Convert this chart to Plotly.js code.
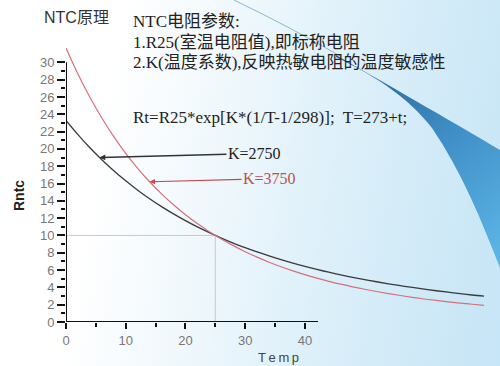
<!DOCTYPE html>
<html>
<head>
<meta charset="utf-8">
<script src="https://cdn.plot.ly/plotly-3.0.1.min.js"></script>
<style>
  html, body { margin:0; padding:0; }
  #wrap { position:relative; width:500px; height:366px; overflow:hidden;
    background: linear-gradient(100deg, #ffffff 0%, #ffffff 22%, #eef7fc 45%, #ddf0fa 65%, #cfe9f7 85%, #c6e5f6 100%); }
  #bg { position:absolute; left:0; top:0; }
  #chart { position:absolute; left:0; top:0; width:500px; height:366px; }
</style>
</head>
<body>
<div id="wrap">
<svg id="bg" width="500" height="366">
  <defs>
    <linearGradient id="sw" x1="340" y1="56" x2="500" y2="260" gradientUnits="userSpaceOnUse">
      <stop offset="0" stop-color="#255f8f"/>
      <stop offset="0.5" stop-color="#3f8fc6"/>
      <stop offset="1" stop-color="#5db5e6"/>
    </linearGradient>
  </defs>
  <path d="M234,0 Q292,28 340,56" stroke="#8fb6cc" stroke-width="1" fill="none"/>
  <path d="M336,55 C400,92 460,126 500,150 L500,268 C482,222 462,172 432,128 C410,100 380,78 336,57 Z" fill="url(#sw)"/>
</svg>
<div id="chart"></div>
</div>
<script>
// Temperature t (°C) and resistance readings for the two K values
const temps = [0,2,4,6,8,10,12,14,16,18,20,22,24,26,28,30,32,34,36,38,40,42,44,46,48,50,52,54,56,58,60,62,64,66,68,70];
const r2750 = [23.28,21.64,20.13,18.75,17.48,16.31,15.23,14.24,13.33,12.49,11.71,10.98,10.32,9.70,9.12,8.59,8.09,7.63,7.20,6.80,6.43,6.08,5.75,5.45,5.16,4.90,4.65,4.41,4.19,3.99,3.79,3.61,3.44,3.28,3.12,2.98];
const r3750 = [31.66,28.65,25.96,23.56,21.41,19.48,17.75,16.20,14.80,13.54,12.40,11.37,10.43,9.59,8.82,8.12,7.49,6.91,6.39,5.91,5.47,5.07,4.70,4.37,4.06,3.78,3.52,3.28,3.06,2.85,2.66,2.49,2.33,2.18,2.05,1.92];
const seriesNames = ['K=2750', 'K=3750'];
// Reference point R25 at 25 °C
const refT = 25;
const refR = 10;
// Tick labels
const xTickVals = [0,10,20,30,40];
const xMinorVals = [5,15,25,35];
const yTickVals = [0,2,4,6,8,10,12,14,16,18,20,22,24,26,28,30];
const yMinorVals = [1,3,5,7,9,11,13,15,17,19,21,23,25,27,29];
const xAxisEnd = 42.2;
const yAxisEnd = 30;
// Arrow anchor points (on the curves)
const arrow2750 = {t: 5.6, r: 19.0};
const arrow3750 = {t: 14, r: 16.2};

const traces = [
  {x:[0, refT, refT], y:[refR, refR, 0], mode:'lines', line:{color:'#c9c9c9', width:1}, hoverinfo:'skip'},
  {x:temps, y:r2750, name:seriesNames[0], mode:'lines', line:{color:'#3a3a3a', width:1.3, shape:'spline'}},
  {x:temps, y:r3750, name:seriesNames[1], mode:'lines', line:{color:'#d5707a', width:1.2, shape:'spline'}},
  {x:[0, xAxisEnd], y:[0, 0], mode:'lines', line:{color:'#111', width:2}, hoverinfo:'skip', cliponaxis:false},
  {x:[0, 0], y:[0, yAxisEnd], mode:'lines', line:{color:'#111', width:2}, hoverinfo:'skip', cliponaxis:false}
];

const serif = '"Liberation Serif", "Times New Roman", "Noto Sans CJK SC", serif';
const sans = '"Liberation Sans", Arial, "Noto Sans CJK SC", sans-serif';
const px = (p) => (p - 66) / 430;
const py = (p) => (322 - p) / 277;

const layout = {
  width:500, height:366,
  margin:{l:66, r:4, t:45, b:44},
  paper_bgcolor:'rgba(0,0,0,0)', plot_bgcolor:'rgba(0,0,0,0)',
  showlegend:false,
  xaxis:{range:[0,72], showgrid:false, zeroline:false, showline:false,
    tickmode:'array', tickvals:xTickVals, ticks:'outside', ticklen:6, tickwidth:2, tickcolor:'#111',
    minor:{tickmode:'array', tickvals:xMinorVals, ticks:'outside', ticklen:4, tickwidth:2, tickcolor:'#111'},
    tickfont:{family:sans, size:13, color:'#777'}},
  yaxis:{range:[0,32], showgrid:false, zeroline:false, showline:false,
    tickmode:'array', tickvals:yTickVals, ticks:'outside', ticklen:8, tickwidth:2, tickcolor:'#111',
    minor:{tickmode:'array', tickvals:yMinorVals, ticks:'outside', ticklen:4, tickwidth:2, tickcolor:'#111'},
    tickfont:{family:sans, size:13, color:'#777'}},
  annotations:[
    {xref:'paper', yref:'paper', x:px(42), y:py(18), xanchor:'left', yanchor:'middle', showarrow:false,
      text:'NTC原理', font:{family:sans, size:16, color:'#333'}},
    {xref:'paper', yref:'paper', x:px(131), y:py(22), xanchor:'left', yanchor:'middle', showarrow:false,
      text:'NTC电阻参数:', font:{family:serif, size:17, color:'#222'}},
    {xref:'paper', yref:'paper', x:px(131), y:py(42), xanchor:'left', yanchor:'middle', showarrow:false,
      text:'1.R25(室温电阻值),即标称电阻', font:{family:serif, size:17, color:'#222'}},
    {xref:'paper', yref:'paper', x:px(131), y:py(62), xanchor:'left', yanchor:'middle', showarrow:false,
      text:'2.K(温度系数),反映热敏电阻的温度敏感性', font:{family:serif, size:17, color:'#222'}},
    {xref:'paper', yref:'paper', x:px(131), y:py(118), xanchor:'left', yanchor:'middle', showarrow:false,
      text:'Rt=R25*exp[K*(1/T-1/298)];  T=273+t;', font:{family:serif, size:17, color:'#222'}},
    {xref:'paper', yref:'paper', x:px(19), y:py(196), xanchor:'center', yanchor:'middle', showarrow:false,
      textangle:-90, text:'<b>Rntc</b>', font:{family:sans, size:14, color:'#222'}},
    {xref:'paper', yref:'paper', x:px(278), y:py(357), xanchor:'center', yanchor:'middle', showarrow:false,
      text:'T\u2009e\u2009m\u2009p', font:{family:sans, size:13, color:'#444'}},
    {xref:'x', yref:'y', x:arrow2750.t, y:arrow2750.r, ax:155, ay:-4, showarrow:true,
      arrowhead:2, arrowsize:0.9, arrowwidth:1.3, arrowcolor:'#333', standoff:0,
      text:seriesNames[0], font:{family:serif, size:16, color:'#222'}},
    {xref:'x', yref:'y', x:arrow3750.t, y:arrow3750.r, ax:120, ay:-3, showarrow:true,
      arrowhead:2, arrowsize:0.9, arrowwidth:1.2, arrowcolor:'#c9464f', standoff:0,
      text:seriesNames[1], font:{family:serif, size:16, color:'#c0504d'}}
  ]
};

Plotly.newPlot('chart', traces, layout, {staticPlot:true, displayModeBar:false});
</script>
</body>
</html>
